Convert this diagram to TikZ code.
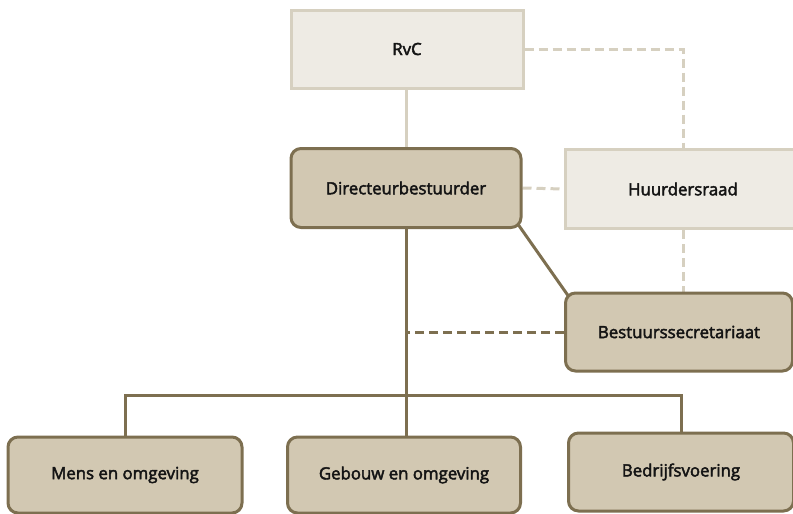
\documentclass[tikz,border=0pt]{standalone}
\usepackage{fontspec}
\setmainfont{Open Sans}[FakeBold=2.6]
\usetikzlibrary{backgrounds,calc}
\definecolor{lfill}{HTML}{EEEBE4}
\definecolor{lbord}{HTML}{D6D0C0}
\definecolor{dfill}{HTML}{D2C8B2}
\definecolor{dbord}{HTML}{7D6F50}
\definecolor{txt}{HTML}{141414}
\tikzset{
  lightbox/.style={draw=lbord, fill=lfill, line width=3pt, rectangle, inner sep=0pt, text=txt, font=\fontsize{16.8}{20}\selectfont},
  darkbox/.style={draw=dbord, fill=dfill, line width=3pt, rectangle, rounded corners=10pt, inner sep=0pt, text=txt, font=\fontsize{16.8}{20}\selectfont},
  lline/.style={draw=lbord, line width=3pt},
  ldash/.style={draw=lbord, line width=3pt, dash pattern=on 9pt off 5pt},
  dline/.style={draw=dbord, line width=3pt},
  ddash/.style={draw=dbord, line width=3pt, dash pattern=on 9pt off 5pt}
}
\begin{document}
\begin{tikzpicture}[x=1pt,y=-1pt]
\useasboundingbox (0,0) rectangle (793,514);
\node[lightbox, minimum width=232pt, minimum height=78pt] (rvc) at (407,49) {RvC};
\node[darkbox, minimum width=230pt, minimum height=79pt] (dir) at (406,188) {Directeurbestuurder};
\node[lightbox, minimum width=236pt, minimum height=79pt] (huur) at (683,189) {Huurdersraad};
\node[darkbox, minimum width=227pt, minimum height=78pt] (bes) at (679,332) {Bestuurssecretariaat};
\node[darkbox, minimum width=234pt, minimum height=76pt] (mens) at (125,475) {Mens en omgeving};
\node[darkbox, minimum width=233pt, minimum height=76pt] (geb) at (404,475) {Gebouw en omgeving};
\node[darkbox, minimum width=225pt, minimum height=78pt] (bed) at (681,472) {Bedrijfsvoering};
\begin{scope}[on background layer]
\draw[lline] (rvc.south -| dir.south) -- (dir.south);
\draw[ldash] (rvc.east) -| (huur.north);
\draw[ldash] (dir.east) -- (huur.west);
\draw[ldash] (huur.south) -- (huur.south |- bes.north);
\draw[dline] ($(dir.south east)+(-4,-4)$) -- ($(bes.north west)+(4,4)$);
\draw[dline] (dir.south) -- (dir.south |- geb.north);
\draw[ddash] (bes.west) -- (dir.south |- bes.west);
\draw[dline] (mens.north) -- ++(0,-40) coordinate (busl) -| (bed.north);
\end{scope}
\end{tikzpicture}
\end{document}
